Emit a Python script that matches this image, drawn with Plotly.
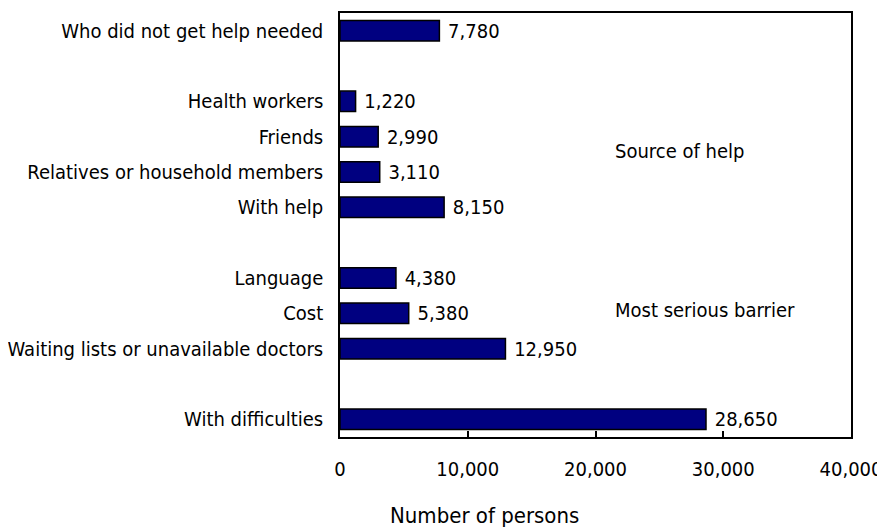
import plotly.graph_objects as go

categories = [
    "Who did not get help needed",
    " ",
    "Health workers",
    "Friends",
    "Relatives or household members",
    "With help",
    "  ",
    "Language",
    "Cost",
    "Waiting lists or unavailable doctors",
    "   ",
    "With difficulties",
]
values = [7780, None, 1220, 2990, 3110, 8150, None, 4380, 5380, 12950, None, 28650]
x_ticks = [0, 10000, 20000, 30000, 40000]
x_tick_labels = ["0", "10,000", "20,000", "30,000", "40,000"]
x_title = "Number of persons"
group_labels = ["Source of help", "Most serious barrier"]

FONT = "DejaVu Sans Condensed"
SIZE = 20

labels = [f"{v:,}" if v is not None else "" for v in values]

fig = go.Figure(
    go.Bar(
        x=values,
        y=categories,
        orientation="h",
        marker=dict(color="#000080", line=dict(color="black", width=1.5)),
        text=labels,
        texttemplate=" %{text}",
        textposition="outside",
        constraintext="none",
        textfont=dict(family=FONT, size=SIZE, color="black"),
        cliponaxis=False,
        width=0.58,
    )
)

# page body has an 8px default margin; compensate so plot area lands where the reference has it
fig.update_layout(
    width=877,
    height=521,
    margin=dict(l=332, r=34, t=5, b=92),
    plot_bgcolor="white",
    paper_bgcolor="white",
    showlegend=False,
    font=dict(family=FONT, size=SIZE, color="black"),
    annotations=[
        dict(text=group_labels[0], xref="paper", yref="paper", x=0.534, y=0.675,
             xanchor="left", yanchor="middle", showarrow=False,
             font=dict(family=FONT, size=SIZE, color="black")),
        dict(text=group_labels[1], xref="paper", yref="paper", x=0.534, y=0.30,
             xanchor="left", yanchor="middle", showarrow=False,
             font=dict(family=FONT, size=SIZE, color="black")),
        dict(text=x_title, xref="paper", yref="paper", x=0.282, y=-0.186,
             xanchor="center", yanchor="middle", showarrow=False,
             font=dict(family=FONT, size=22, color="black")),
    ],
)

fig.update_xaxes(
    range=[0, 40000],
    tickvals=x_ticks,
    ticktext=x_tick_labels,
    ticks="inside",
    ticklen=6,
    tickcolor="black",
    tickwidth=1.5,
    showgrid=False,
    zeroline=False,
    showline=True,
    linecolor="black",
    linewidth=1.5,
    mirror=True,
    ticklabelstandoff=13,
    automargin=False,
)
fig.update_yaxes(
    categoryorder="array",
    categoryarray=categories,
    autorange="reversed",
    showgrid=False,
    showline=True,
    linecolor="black",
    linewidth=1.5,
    mirror=True,
    ticks="",
    automargin=False,
    ticklabelstandoff=11,
)

fig.write_html("out.html")
